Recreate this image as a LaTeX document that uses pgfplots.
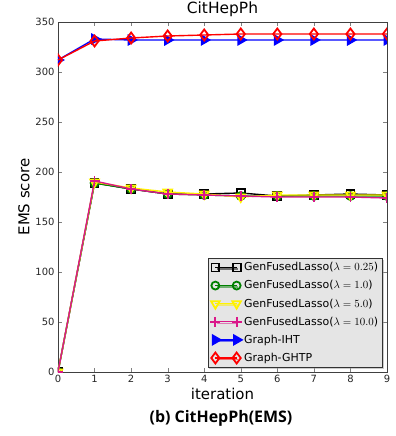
\documentclass[border=0pt]{standalone}
\usepackage{pgfplots}
\pgfplotsset{compat=1.18}
\usepackage{fontspec}
\setmainfont{DejaVu Sans}
\newfontfamily\capfont{Open Sans}
\usetikzlibrary{shadows}
\begin{document}
\begin{tikzpicture}
\useasboundingbox (-58bp,-64bp) rectangle (338bp,372bp);
\begin{axis}[
  scale only axis, width=329bp, height=350bp,
  xmin=0, xmax=9, ymin=0, ymax=350,
  xtick={0,...,9}, ytick={0,50,...,350},
  tick align=inside, tick pos=both,
  /pgf/number format/assume math mode=true,
  tick label style={font=\fontsize{10}{12}\selectfont, text=black!85},
  title={CitHepPh}, title style={font=\fontsize{15.5}{18}\selectfont, yshift=-4bp},
  xlabel={iteration}, ylabel={EMS score},
  label style={font=\fontsize{15}{18}\selectfont},
  xlabel style={yshift=2bp},
  ylabel style={yshift=-1bp},
  axis line style={black!75, line width=0.8pt},
  clip marker paths=true,
  legend style={at={(0.988,0.012)}, anchor=south east, fill=black!10, draw=black!80, line width=0.8pt,
    drop shadow={shadow xshift=1.5bp, shadow yshift=-1.5bp, fill=black!40},
    font=\fontsize{11}{13}\selectfont, row sep=4.3bp, inner sep=2.5bp},
  legend cell align=left,
  legend image code/.code={\draw[line width=1.4pt] plot coordinates {(0cm,0cm) (0.75cm,0cm)};},
  every axis plot/.append style={line width=1.4pt},
  mark size=4pt,
]
\addplot[black, mark=square, mark options={line width=1.8pt, mark size=4pt}] coordinates {(0,0)(1,189)(2,183)(3,178)(4,178)(5,179)(6,176)(7,177)(8,178)(9,177)};
\addlegendentry{GenFusedLasso($\lambda=0.25$)}
\addplot[green!50!black, mark=o, mark options={line width=1.8pt, mark size=4pt}] coordinates {(0,0)(1,189)(2,183)(3,178)(4,177)(5,176)(6,176)(7,176)(8,176)(9,176)};
\addlegendentry{GenFusedLasso($\lambda=1.0$)}
\addplot[yellow, mark=triangle, mark options={rotate=180, line width=1.8pt, mark size=5pt}] coordinates {(0,0)(1,190)(2,184)(3,180)(4,178)(5,175)(6,177)(7,177)(8,177)(9,177)};
\addlegendentry{GenFusedLasso($\lambda=5.0$)}
\addplot[magenta!90!black, mark=+, mark options={line width=1.8pt, mark size=5pt}] coordinates {(0,0)(1,191)(2,183)(3,178)(4,177)(5,176)(6,175)(7,175)(8,175)(9,174)};
\addlegendentry{GenFusedLasso($\lambda=10.0$)}
\addplot[blue, mark=triangle*, mark options={rotate=-90, mark size=5.5pt}] coordinates {(0,312)(1,333)(2,332)(3,332)(4,332)(5,332)(6,332)(7,332)(8,332)(9,332)};
\addlegendentry{Graph-IHT}
\addplot[red, mark=diamond, mark options={line width=1.8pt, mark size=5.5pt}] coordinates {(0,312)(1,331)(2,334)(3,336)(4,337)(5,338)(6,338)(7,338)(8,338)(9,338)};
\addlegendentry{Graph-GHTP}
\end{axis}
\node[font=\capfont\bfseries\fontsize{16}{18}\selectfont] at (163bp,-46bp) {(b) CitHepPh(EMS)};
\end{tikzpicture}
\end{document}
